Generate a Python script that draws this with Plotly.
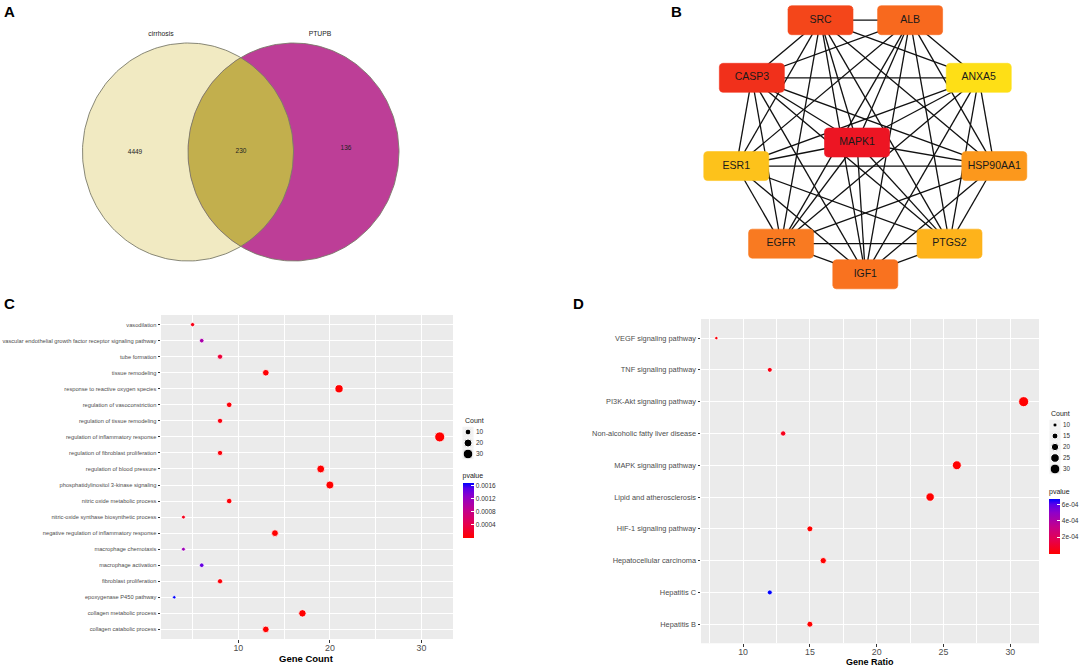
import numpy as np
import plotly.graph_objects as go
from itertools import combinations

W, H = 1084, 669
FONT = "Liberation Sans, Arial, Helvetica, sans-serif"

# ---------------- data ----------------
# Panel A (Venn)
venn_labels = ["cirrhosis", "PTUPB"]
venn_values = [4449, 230, 136]  # cirrhosis only, shared, PTUPB only

# Panel B (hub-gene network)
hub_ring = ["IGF1", "PTGS2", "HSP90AA1", "ANXA5", "ALB", "SRC", "CASP3", "ESR1", "EGFR"]
hub_center = "MAPK1"
hub_colors = {
    "SRC": "#F4461A", "ALB": "#F8691E", "ANXA5": "#FEDF16", "HSP90AA1": "#FC981C",
    "PTGS2": "#FEB31B", "IGF1": "#F9721F", "EGFR": "#F97A21", "ESR1": "#FDC21B",
    "CASP3": "#F1301B", "MAPK1": "#ED1523",
}

# Panel C (GO terms)
go_terms = [
    "vasodilation",
    "vascular endothelial growth factor receptor signaling pathway",
    "tube formation",
    "tissue remodeling",
    "response to reactive oxygen species",
    "regulation of vasoconstriction",
    "regulation of tissue remodeling",
    "regulation of inflammatory response",
    "regulation of fibroblast proliferation",
    "regulation of blood pressure",
    "phosphatidylinositol 3-kinase signaling",
    "nitric oxide metabolic process",
    "nitric-oxide synthase biosynthetic process",
    "negative regulation of inflammatory response",
    "macrophage chemotaxis",
    "macrophage activation",
    "fibroblast proliferation",
    "epoxygenase P450 pathway",
    "collagen metabolic process",
    "collagen catabolic process",
]
go_count = [5, 6, 8, 13, 21, 9, 8, 32, 8, 19, 20, 9, 4, 14, 4, 6, 8, 3, 17, 13]
go_pvalue = [1.2e-4, 1.05e-3, 3.0e-4, 2e-5, 1e-7, 5e-5, 8e-5, 1e-12, 6e-5, 1e-8,
             1e-9, 4e-5, 1.5e-4, 1e-6, 1.15e-3, 1.45e-3, 5e-5, 1.68e-3, 1e-7, 1e-6]
go_xticks = [10, 20, 30]
go_cbar_ticks = [0.0004, 0.0008, 0.0012, 0.0016]
go_cbar_labels = ["0.0004", "0.0008", "0.0012", "0.0016"]
go_size_breaks = [10, 20, 30]

# Panel D (KEGG pathways)
kegg_terms = [
    "VEGF signaling pathway",
    "TNF signaling pathway",
    "PI3K-Akt signaling pathway",
    "Non-alcoholic fatty liver disease",
    "MAPK signaling pathway",
    "Lipid and atherosclerosis",
    "HIF-1 signaling pathway",
    "Hepatocellular carcinoma",
    "Hepatitis C",
    "Hepatitis B",
]
kegg_ratio = [8, 12, 31, 13, 26, 24, 15, 16, 12, 15]
kegg_count = [8, 12, 31, 13, 26, 24, 15, 16, 12, 15]
kegg_pvalue = [2e-5, 4e-5, 1e-10, 6e-5, 1e-9, 1e-8, 1e-7, 1e-7, 6.7e-4, 1e-6]
kegg_xticks = [10, 15, 20, 25, 30]
kegg_cbar_ticks = [2e-4, 4e-4, 6e-4]
kegg_cbar_labels = ["2e-04", "4e-04", "6e-04"]
kegg_size_breaks = [10, 15, 20, 25, 30]

# ---------------- helpers ----------------
def pxx(x):
    return x / W


def pyy(y):
    return 1 - y / H


P_SCALE = [[0.0, "#FF0000"], [0.25, "#E6004E"], [0.5, "#C3008C"],
           [0.75, "#9000C8"], [0.9, "#5A00EA"], [1.0, "#0000FF"]]


def size_map(vals, lo, hi, dmin=3.4, dmax=10.0):
    v = np.sqrt(np.asarray(vals, dtype=float))
    return list(dmin + (dmax - dmin) * (v - np.sqrt(lo)) / (np.sqrt(hi) - np.sqrt(lo)))


def expand(vals, f=0.05):
    lo, hi = min(vals), max(vals)
    s = hi - lo
    return [lo - f * s, hi + f * s]


def minor_of(ticks):
    step = ticks[1] - ticks[0]
    return [t - step / 2 for t in ticks] + [ticks[-1] + step / 2]


fig = go.Figure()

# ---------------- Panel A: Venn ----------------
c1 = (188.0, 152.0)
c2 = (293.5, 152.0)
rx, ry = 105.5, 109.0
th = np.linspace(0, 2 * np.pi, 240)
d = c2[0] - c1[0]
alpha = np.arccos((d / 2) / rx)
for c, col in [(c1, "#F1EAC2"), (c2, "#BD3E97")]:
    fig.add_trace(go.Scatter(x=c[0] + rx * np.cos(th), y=c[1] + ry * np.sin(th), mode="lines",
                             fill="toself", fillcolor=col, line=dict(width=0),
                             xaxis="x3", yaxis="y3", hoverinfo="skip"))
a1 = np.linspace(-alpha, alpha, 80)
a2 = np.linspace(np.pi - alpha, np.pi + alpha, 80)
lx = np.concatenate([c1[0] + rx * np.cos(a1), c2[0] + rx * np.cos(a2)])
ly = np.concatenate([c1[1] + ry * np.sin(a1), c2[1] + ry * np.sin(a2)])
fig.add_trace(go.Scatter(x=lx, y=ly, mode="lines", fill="toself", fillcolor="#C2AF4D",
                         line=dict(width=0), xaxis="x3", yaxis="y3", hoverinfo="skip"))
for c in (c1, c2):
    fig.add_trace(go.Scatter(x=c[0] + rx * np.cos(th), y=c[1] + ry * np.sin(th), mode="lines",
                             line=dict(width=0.9, color="#7A7A6A"), xaxis="x3", yaxis="y3",
                             hoverinfo="skip"))
fig.add_trace(go.Scatter(x=[135, 241, 346], y=[152, 151, 148], mode="text",
                         text=[str(v) for v in venn_values],
                         textfont=dict(size=6.5, color="#222222", family=FONT),
                         xaxis="x3", yaxis="y3", hoverinfo="skip"))
fig.add_trace(go.Scatter(x=[161, 320], y=[34, 34], mode="text", text=venn_labels,
                         textfont=dict(size=6.8, color="#222222", family=FONT),
                         xaxis="x3", yaxis="y3", hoverinfo="skip"))

# ---------------- Panel B: network ----------------
cx, cy, R = 865.3, 143.3, 131.0
pos = {}
for i, g in enumerate(hub_ring):
    ang = np.deg2rad(270 + 40 * i)
    pos[g] = (cx + R * np.cos(ang), cy - R * np.sin(ang))
pos[hub_center] = (cx - 8.3, cy - 0.8)
nodes = [hub_center] + hub_ring

ex, ey = [], []
for a, b in combinations(nodes, 2):
    ex += [pos[a][0], pos[b][0], None]
    ey += [pos[a][1], pos[b][1], None]
fig.add_trace(go.Scatter(x=ex, y=ey, mode="lines", line=dict(color="#111111", width=1.3),
                         xaxis="x3", yaxis="y3", hoverinfo="skip"))


def rrect(cxx, cyy, w=65.0, h=29.0, r=3.5, n=6):
    xs, ys = [], []
    corners = [(cxx + w / 2 - r, cyy - h / 2 + r, -np.pi / 2, 0),
               (cxx + w / 2 - r, cyy + h / 2 - r, 0, np.pi / 2),
               (cxx - w / 2 + r, cyy + h / 2 - r, np.pi / 2, np.pi),
               (cxx - w / 2 + r, cyy - h / 2 + r, np.pi, 1.5 * np.pi)]
    for (qx, qy, t0, t1) in corners:
        t = np.linspace(t0, t1, n)
        xs += list(qx + r * np.cos(t))
        ys += list(qy + r * np.sin(t))
    xs.append(xs[0])
    ys.append(ys[0])
    return xs, ys


for g in nodes:
    xs, ys = rrect(*pos[g])
    fig.add_trace(go.Scatter(x=xs, y=ys, mode="lines", fill="toself", fillcolor=hub_colors[g],
                             line=dict(color=hub_colors[g], width=0.6),
                             xaxis="x3", yaxis="y3", hoverinfo="skip"))
fig.add_trace(go.Scatter(x=[pos[g][0] for g in nodes], y=[pos[g][1] for g in nodes], mode="text",
                         text=nodes, textfont=dict(size=10.5, color="#1A1A1A", family=FONT),
                         xaxis="x3", yaxis="y3", hoverinfo="skip"))

# ---------------- Panel C ----------------
fig.add_trace(go.Scatter(
    x=go_count, y=go_terms, mode="markers", xaxis="x", yaxis="y",
    marker=dict(size=size_map(go_count, min(go_count), max(go_count)), color=go_pvalue,
                opacity=1, colorscale=P_SCALE, line=dict(color="white", width=0.8),
                colorbar=dict(title=dict(text="pvalue", side="top", font=dict(size=7, color="#1A1A1A")),
                              x=pxx(462.5), xanchor="left", y=pyy(470), yanchor="top",
                              len=68, lenmode="pixels", thickness=11, outlinewidth=0,
                              xpad=0, ypad=0, tickvals=go_cbar_ticks, ticktext=go_cbar_labels,
                              ticks="inside", ticklen=3, tickcolor="white",
                              tickfont=dict(size=6.5, color="#333333"))),
    hoverinfo="skip"))

# Panel C size legend
cl = [str(v) for v in go_size_breaks]
fig.add_trace(go.Scatter(x=[0] * len(cl), y=cl, mode="markers", xaxis="x4", yaxis="y4",
                         marker=dict(symbol="square", size=11, color="#F2F2F2", opacity=1),
                         hoverinfo="skip"))
fig.add_trace(go.Scatter(x=[0] * len(cl), y=cl, mode="markers", xaxis="x4", yaxis="y4",
                         marker=dict(size=size_map(go_size_breaks, min(go_count), max(go_count)),
                                     color="black", opacity=1), hoverinfo="skip"))
fig.add_trace(go.Scatter(x=[0.8] * len(cl), y=cl, mode="text", text=cl, textposition="middle right",
                         textfont=dict(size=6.5, color="#333333"), xaxis="x4", yaxis="y4",
                         hoverinfo="skip"))

# ---------------- Panel D ----------------
fig.add_trace(go.Scatter(
    x=kegg_ratio, y=kegg_terms, mode="markers", xaxis="x2", yaxis="y2",
    marker=dict(size=size_map(kegg_count, min(kegg_count), max(kegg_count)), color=kegg_pvalue,
                opacity=1, colorscale=P_SCALE, line=dict(color="white", width=0.8),
                colorbar=dict(title=dict(text="pvalue", side="top", font=dict(size=7, color="#1A1A1A")),
                              x=pxx(1049), xanchor="left", y=pyy(485.5), yanchor="top",
                              len=68, lenmode="pixels", thickness=11, outlinewidth=0,
                              xpad=0, ypad=0, tickvals=kegg_cbar_ticks, ticktext=kegg_cbar_labels,
                              ticks="inside", ticklen=3, tickcolor="white",
                              tickfont=dict(size=6.5, color="#333333"))),
    hoverinfo="skip"))

dl = [str(v) for v in kegg_size_breaks]
fig.add_trace(go.Scatter(x=[0] * len(dl), y=dl, mode="markers", xaxis="x5", yaxis="y5",
                         marker=dict(symbol="square", size=11, color="#F2F2F2", opacity=1),
                         hoverinfo="skip"))
fig.add_trace(go.Scatter(x=[0] * len(dl), y=dl, mode="markers", xaxis="x5", yaxis="y5",
                         marker=dict(size=size_map(kegg_size_breaks, min(kegg_count), max(kegg_count)),
                                     color="black", opacity=1), hoverinfo="skip"))
fig.add_trace(go.Scatter(x=[0.8] * len(dl), y=dl, mode="text", text=dl, textposition="middle right",
                         textfont=dict(size=6.3, color="#333333"), xaxis="x5", yaxis="y5",
                         hoverinfo="skip"))

# ---------------- layout ----------------
grid = dict(showgrid=True, gridcolor="white", gridwidth=1.1, zeroline=False, showline=False,
            ticks="outside", ticklen=2.5, tickwidth=0.8, tickcolor="#333333", fixedrange=True)
hidden = dict(visible=False, fixedrange=True)

fig.update_layout(
    width=W, height=H, margin=dict(l=0, r=0, t=0, b=0, pad=0),
    paper_bgcolor="white", plot_bgcolor="rgba(0,0,0,0)", showlegend=False,
    font=dict(family=FONT, color="#333333"),
    xaxis=dict(domain=[pxx(161), pxx(453)], range=expand(go_count), tickvals=go_xticks,
               tickfont=dict(size=8.8, color="#4D4D4D"), ticklabelstandoff=-2,
               minor=dict(tickvals=minor_of(go_xticks), showgrid=True, gridcolor="white",
                          gridwidth=0.5, ticks=""), anchor="y", **grid),
    yaxis=dict(domain=[pyy(639), pyy(315)], type="category", categoryorder="array",
               categoryarray=go_terms, range=[len(go_terms) - 0.4, -0.6],
               tickfont=dict(size=5.7, color="#4D4D4D"), anchor="x", **grid),
    xaxis2=dict(domain=[pxx(701), pxx(1039)], range=expand(kegg_ratio), tickvals=kegg_xticks,
                tickfont=dict(size=8.8, color="#4D4D4D"), ticklabelstandoff=-2,
                minor=dict(tickvals=minor_of(kegg_xticks), showgrid=True, gridcolor="white",
                           gridwidth=0.5, ticks=""), anchor="y2", **grid),
    yaxis2=dict(domain=[pyy(643.3), pyy(319)], type="category", categoryorder="array",
                categoryarray=kegg_terms, range=[len(kegg_terms) - 0.4, -0.6],
                tickfont=dict(size=7.4, color="#4D4D4D"), anchor="x2", **grid),
    xaxis3=dict(domain=[0, 1], range=[0, W], anchor="y3", **hidden),
    yaxis3=dict(domain=[0, 1], range=[H, 0], anchor="x3", **hidden),
    xaxis4=dict(domain=[pxx(461), pxx(509)], range=[-0.7, 4.1], anchor="y4", **hidden),
    yaxis4=dict(domain=[pyy(459.5), pyy(426.5)], type="category", categoryorder="array",
                categoryarray=cl, range=[len(cl) - 0.5, -0.5], anchor="x4", **hidden),
    xaxis5=dict(domain=[pxx(1048), pxx(1084)], range=[-0.7, 2.9], anchor="y5", **hidden),
    yaxis5=dict(domain=[pyy(474.5), pyy(419.5)], type="category", categoryorder="array",
                categoryarray=dl, range=[len(dl) - 0.5, -0.5], anchor="x5", **hidden),
)

for xr, yr in [("x", "y"), ("x2", "y2")]:
    fig.add_shape(type="rect", xref=f"{xr} domain", yref=f"{yr} domain", x0=0, x1=1, y0=0, y1=1,
                  fillcolor="#EBEBEB", line=dict(width=0), layer="below")

ann = [
    ("A", 9, 11.5, 15, True, "center"), ("B", 676, 11.5, 15, True, "center"),
    ("C", 9, 303, 15, True, "center"), ("D", 578.5, 303, 15, True, "center"),
    ("Gene Count", 306.7, 658.5, 9.5, True, "center"), ("Gene Ratio", 870, 661.5, 9, True, "center"),
    ("Count", 462.5, 420, 7, False, "left"), ("Count", 1049, 413.3, 7, False, "left"),
]
for txt, x, y, s, bold, xa in ann:
    fig.add_annotation(text=f"<b>{txt}</b>" if bold else txt, x=pxx(x), y=pyy(y), xref="paper",
                       yref="paper", showarrow=False, xanchor=xa, yanchor="middle",
                       font=dict(size=s, color="#000000" if bold else "#1A1A1A", family=FONT))

fig.write_html("out.html", config={"displayModeBar": False},
               post_script="document.body.style.margin='0';document.body.style.overflow='hidden';")
